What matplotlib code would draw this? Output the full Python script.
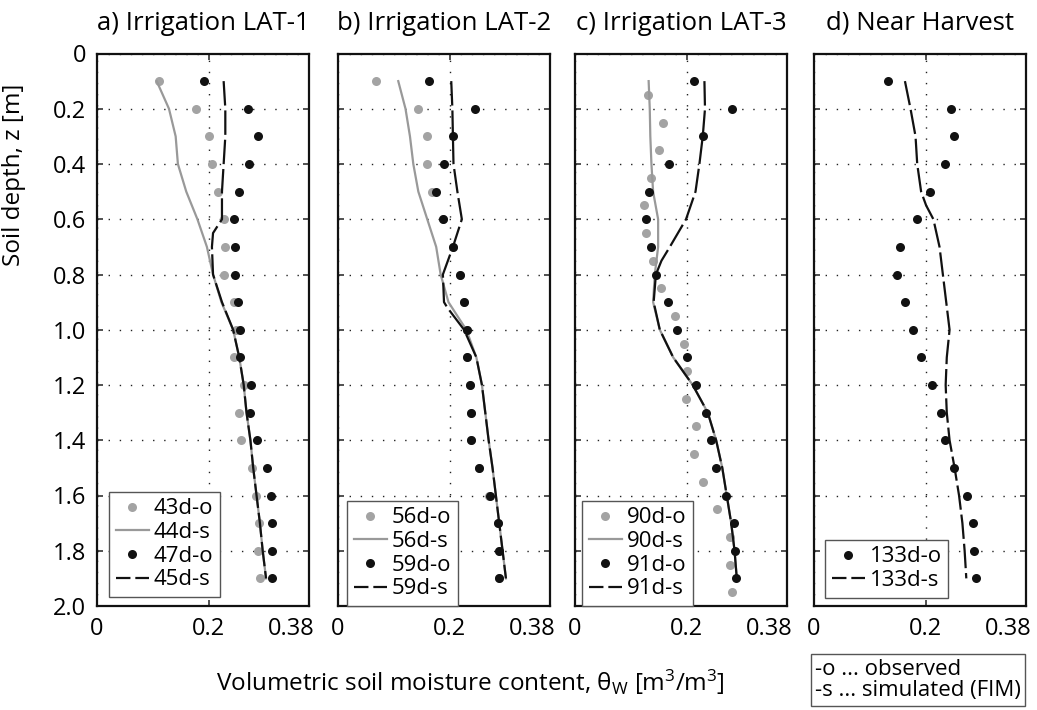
import matplotlib
matplotlib.use("Agg")
import matplotlib.pyplot as plt
from matplotlib.transforms import ScaledTranslation

plt.rcParams['font.family'] = ['Open Sans', 'DejaVu Sans']
plt.rcParams['mathtext.fontset'] = 'custom'
plt.rcParams['mathtext.rm'] = 'Open Sans'
plt.rcParams['mathtext.it'] = 'Open Sans:italic'

# depths [m]
depth = [0.1, 0.2, 0.3, 0.4, 0.5, 0.6, 0.7, 0.8, 0.9, 1.0,
         1.1, 1.2, 1.3, 1.4, 1.5, 1.6, 1.7, 1.8, 1.9]
depth_c90 = [0.15, 0.25, 0.35, 0.45, 0.55, 0.65, 0.75, 0.85, 0.95, 1.05,
             1.15, 1.25, 1.35, 1.45, 1.55, 1.65, 1.75, 1.85, 1.95]

# a) Irrigation LAT-1
a_obs43 = [0.112, 0.178, 0.200, 0.206, 0.216, 0.227, 0.229, 0.227, 0.245, 0.249,
           0.245, 0.264, 0.255, 0.259, 0.278, 0.285, 0.290, 0.288, 0.292]
a_sim44 = [0.107, 0.129, 0.141, 0.145, 0.160, 0.180, 0.197, 0.208, 0.223, 0.244,
           0.255, 0.263, 0.268, 0.275, 0.280, 0.286, 0.292, 0.297, 0.303]
a_obs47 = [0.191, 0.271, 0.288, 0.273, 0.254, 0.245, 0.248, 0.248, 0.252, 0.257,
           0.257, 0.276, 0.274, 0.287, 0.304, 0.312, 0.313, 0.314, 0.314]
a_sim45_z = [0.1, 0.2, 0.3, 0.4, 0.5, 0.6, 0.65, 0.7, 0.8, 0.9, 1.0,
             1.1, 1.2, 1.3, 1.4, 1.5, 1.6, 1.7, 1.8, 1.9]
a_sim45 = [0.227, 0.230, 0.230, 0.227, 0.224, 0.224, 0.208, 0.206, 0.208, 0.224, 0.244,
           0.255, 0.263, 0.268, 0.275, 0.280, 0.286, 0.292, 0.297, 0.303]

# b) Irrigation LAT-2
b_obs56 = [0.069, 0.144, 0.160, 0.160, 0.169, 0.188, 0.206, 0.218, 0.225, 0.231,
           0.232, 0.236, 0.239, 0.238, 0.253, 0.271, 0.286, 0.288, 0.289]
b_sim56 = [0.108, 0.121, 0.129, 0.135, 0.144, 0.160, 0.176, 0.184, 0.198, 0.230,
           0.248, 0.258, 0.264, 0.270, 0.277, 0.283, 0.289, 0.295, 0.301]
b_obs59 = [0.164, 0.245, 0.207, 0.190, 0.176, 0.188, 0.206, 0.218, 0.225, 0.231,
           0.232, 0.236, 0.239, 0.238, 0.253, 0.273, 0.286, 0.288, 0.289]
b_sim59_z = [0.1, 0.2, 0.3, 0.4, 0.5, 0.6, 0.7, 0.8, 0.9, 0.92, 1.0,
             1.1, 1.2, 1.3, 1.4, 1.5, 1.6, 1.7, 1.8, 1.9]
b_sim59 = [0.203, 0.205, 0.206, 0.207, 0.214, 0.222, 0.206, 0.188, 0.190, 0.196, 0.226,
           0.248, 0.258, 0.264, 0.270, 0.277, 0.283, 0.289, 0.295, 0.301]

# c) Irrigation LAT-3
c_obs90 = [0.131, 0.158, 0.151, 0.137, 0.123, 0.128, 0.140, 0.155, 0.180, 0.195,
           0.201, 0.199, 0.216, 0.214, 0.229, 0.255, 0.277, 0.277, 0.282]
c_sim90 = [0.132, 0.134, 0.135, 0.137, 0.140, 0.149, 0.149, 0.143, 0.140, 0.152,
           0.176, 0.211, 0.238, 0.253, 0.264, 0.272, 0.280, 0.286, 0.290]
c_obs91 = [0.214, 0.282, 0.230, 0.169, 0.132, 0.128, 0.136, 0.146, 0.167, 0.183,
           0.201, 0.217, 0.235, 0.243, 0.252, 0.270, 0.285, 0.286, 0.289]
c_sim91_z = [0.1, 0.2, 0.3, 0.4, 0.5, 0.6, 0.7, 0.75, 0.8, 0.9, 1.0,
             1.1, 1.2, 1.3, 1.4, 1.5, 1.6, 1.7, 1.8, 1.9]
c_sim91 = [0.232, 0.233, 0.229, 0.223, 0.216, 0.199, 0.170, 0.155, 0.145, 0.141, 0.152,
           0.176, 0.211, 0.238, 0.253, 0.264, 0.272, 0.280, 0.286, 0.290]

# d) Near Harvest
d_obs133 = [0.133, 0.245, 0.251, 0.235, 0.208, 0.185, 0.154, 0.149, 0.164, 0.177,
            0.192, 0.211, 0.228, 0.235, 0.251, 0.274, 0.285, 0.286, 0.291]
d_sim133_z = [0.1, 0.2, 0.3, 0.4, 0.5, 0.55, 0.6, 0.7, 0.8, 0.9, 1.0,
              1.1, 1.2, 1.3, 1.4, 1.5, 1.6, 1.7, 1.8, 1.9]
d_sim133 = [0.163, 0.173, 0.182, 0.185, 0.192, 0.201, 0.214, 0.225, 0.231, 0.237, 0.243,
            0.238, 0.236, 0.238, 0.243, 0.252, 0.260, 0.266, 0.270, 0.273]

titles = ['a) Irrigation LAT-1', 'b) Irrigation LAT-2',
          'c) Irrigation LAT-3', 'd) Near Harvest']
xticks = [0, 0.2, 0.38]
xticklabels = ['0', '0.2', '0.38']
yticks = [0, 0.2, 0.4, 0.6, 0.8, 1.0, 1.2, 1.4, 1.6, 1.8, 2.0]
yticklabels = ['0', '0.2', '0.4', '0.6', '0.8', '1.0', '1.2', '1.4', '1.6', '1.8', '2.0']

panels = [
    [(depth, a_obs43, '43d-o', 'gobs'), (depth, a_sim44, '44d-s', 'gsim'),
     (depth, a_obs47, '47d-o', 'kobs'), (a_sim45_z, a_sim45, '45d-s', 'ksim')],
    [(depth, b_obs56, '56d-o', 'gobs'), (depth, b_sim56, '56d-s', 'gsim'),
     (depth, b_obs59, '59d-o', 'kobs'), (b_sim59_z, b_sim59, '59d-s', 'ksim')],
    [(depth_c90, c_obs90, '90d-o', 'gobs'), (depth, c_sim90, '90d-s', 'gsim'),
     (depth, c_obs91, '91d-o', 'kobs'), (c_sim91_z, c_sim91, '91d-s', 'ksim')],
    [(depth, d_obs133, '133d-o', 'kobs'), (d_sim133_z, d_sim133, '133d-s', 'ksim')],
]
legend_pos = [(0.057, 0.016), (0.042, 0.0), (0.033, 0.0), (0.052, 0.015)]

styles = {
    'gobs': dict(ls='none', marker='o', ms=6.5, color='#a3a3a3', mec='none'),
    'gsim': dict(ls='-', lw=1.6, color='#999999'),
    'kobs': dict(ls='none', marker='o', ms=6.5, color='#111111', mec='none'),
    'ksim': dict(ls=(0, (11, 2.2)), lw=1.6, color='#111111'),
}

fig = plt.figure(figsize=(10.37, 7.10), dpi=100)
W, H = 1037.0, 710.0
lefts = [97, 338, 575, 814]

for i, left in enumerate(lefts):
    ax = fig.add_axes([left / W, 1 - 606 / H, 212 / W, 552.5 / H])
    for z, v, lab, st in panels[i]:
        ax.plot(v, z, label=lab, **styles[st])

    ax.set_xlim(0, 0.38)
    ax.set_ylim(2.0, 0)
    ax.set_xticks(xticks)
    ax.set_xticklabels(xticklabels, fontsize=17)
    ax.set_yticks(yticks)
    if i == 0:
        ax.set_yticklabels(yticklabels, fontsize=17)
    else:
        ax.set_yticklabels([])
    ax.tick_params(direction='in', length=4, width=1.2, top=True, right=True,
                   color='#333333', pad=8)
    for lab in ax.get_xticklabels():
        if lab.get_text() == '0.38':
            lab.set_ha('right')
            lab.set_transform(lab.get_transform() +
                              ScaledTranslation(4 / 72, 0, fig.dpi_scale_trans))
    for sp in ax.spines.values():
        sp.set_linewidth(1.6)
        sp.set_color('#111111')
    ax.grid(True, ls=(0, (1, 7)), lw=1.0, color='#222222')
    ax.set_title(titles[i], fontsize=18.5, pad=17)

    leg = ax.legend(loc='lower left', bbox_to_anchor=legend_pos[i],
                    borderaxespad=0, fontsize=16, numpoints=1,
                    handlelength=1.5, handletextpad=0.2, labelspacing=0.12,
                    borderpad=0.3, fancybox=False, framealpha=1)
    leg.get_frame().set_edgecolor('#555555')
    leg.get_frame().set_linewidth(1.0)
    # shorter dashes in the legend key so two dashes fit
    for h in leg.get_lines():
        if h.get_linestyle() == '--':
            h.set_linestyle((0, (6.5, 2.2)))

fig.text(14 / W, 1 - 266 / H, 'Soil depth, z [m]', rotation=90,
         ha='center', va='bottom', fontsize=17.5)
fig.text(470 / W, 1 - 682 / H,
         r'Volumetric soil moisture content, θ$_\mathrm{W}$ [m$^\mathrm{3}$/m$^\mathrm{3}$]',
         ha='center', va='center', fontsize=17.5)
fig.text(815 / W, 1 - 680 / H, '-o ... observed\n-s ... simulated (FIM)',
         ha='left', va='center', fontsize=16, linespacing=1.05,
         bbox=dict(boxstyle='square,pad=0.2', fc='white', ec='#555555', lw=1.0))

fig.savefig('out.png', dpi=100)
